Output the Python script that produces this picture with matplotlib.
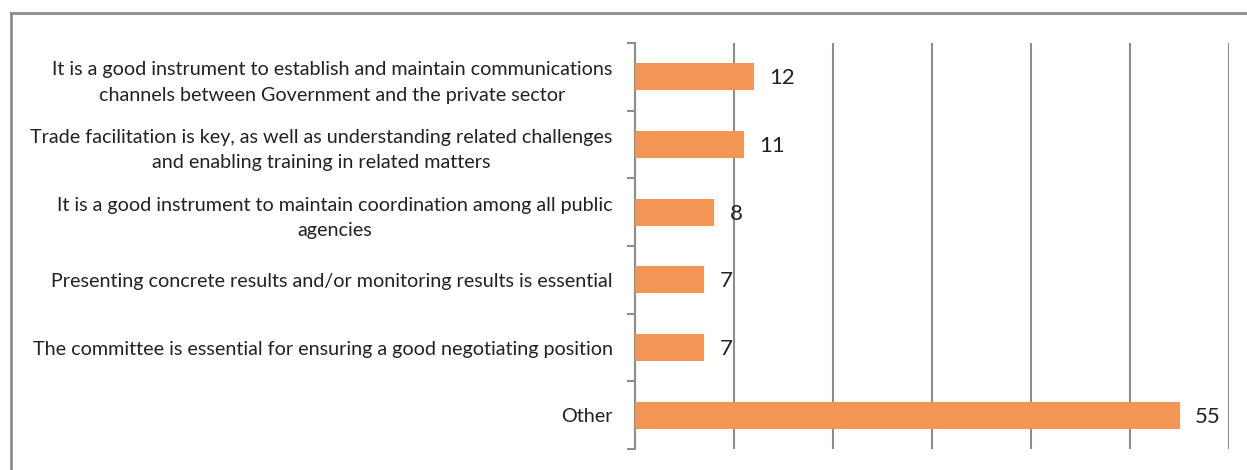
import matplotlib.pyplot as plt
from matplotlib.lines import Line2D

categories = [
    "It is a good instrument to establish and maintain communications\nchannels between Government and the private sector",
    "Trade facilitation is key, as well as understanding related challenges\nand enabling training in related matters",
    "It is a good instrument to maintain coordination among all public\nagencies",
    "Presenting concrete results and/or monitoring results is essential",
    "The committee is essential for ensuring a good negotiating position",
    "Other",
]
values = [12, 11, 8, 7, 7, 55]

plt.rcParams['font.family'] = ['Lato', 'DejaVu Sans']

fig = plt.figure(figsize=(12.47, 4.70), dpi=100)
ax = fig.add_axes([635 / 1247, 1 - 449 / 470, 594 / 1247, 406 / 470])

pos = list(range(len(categories)))
ax.barh(pos, values, height=0.4, color='#f39655', zorder=3)

for y, v in zip(pos, values):
    ax.annotate(str(v), (v, y), xytext=(11, -1), textcoords='offset points',
                ha='left', va='center', fontsize=16, color='#222222')

ax.set_xlim(0, 60)
ax.set_ylim(len(categories) - 0.5, -0.5)
ax.set_xticks(range(0, 61, 10))
ax.tick_params(axis='x', length=0, labelbottom=False)
ax.grid(axis='x', color='#8c8c8c', linewidth=1.5, zorder=0)

ax.set_yticks([i - 0.5 for i in range(len(categories) + 1)])
ax.set_yticklabels([])
ax.set_yticks(pos, minor=True)
ax.set_yticklabels(categories, minor=True, fontsize=14.2, color='#222222')
ax.tick_params(axis='y', which='major', length=6, width=1.5, color='#8c8c8c')
ax.tick_params(axis='y', which='minor', length=0, pad=16)
for lbl in ax.get_yticklabels(minor=True):
    lbl.set_multialignment('center')
    lbl.set_linespacing(1.6)

for s in ['top', 'right', 'bottom']:
    ax.spines[s].set_visible(False)
ax.spines['left'].set_color('#8c8c8c')
ax.spines['left'].set_linewidth(1.5)

# outer frame (top and left edges visible in the crop)
fig.add_artist(Line2D([10.5 / 1247, 1], [1 - 13 / 470, 1 - 13 / 470], color='#8c8c8c', linewidth=2))
fig.add_artist(Line2D([10.5 / 1247, 10.5 / 1247], [0, 1 - 13 / 470], color='#8c8c8c', linewidth=2))

fig.savefig('out.png', dpi=100)
